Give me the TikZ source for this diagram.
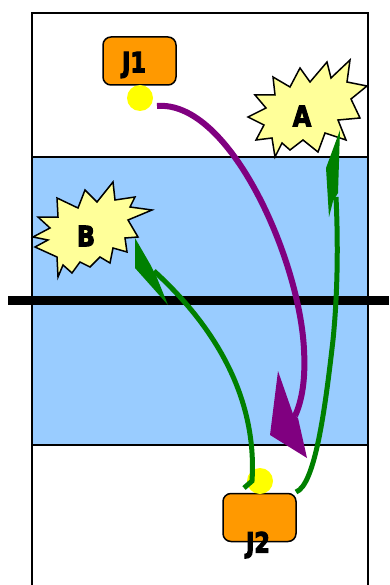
\documentclass[tikz,border=0pt]{standalone}
\usepackage{fontspec}
\newfontfamily\heavy{DejaVu Sans}[BoldFeatures={FakeBold=4}]
\definecolor{courtblue}{HTML}{99CCFF}
\definecolor{boxorange}{HTML}{FF9900}
\definecolor{starfill}{HTML}{FFFF99}
\definecolor{ballyellow}{HTML}{FFFF00}
\definecolor{purp}{HTML}{800080}
\definecolor{grn}{HTML}{008000}
\tikzset{
  courtline/.style={draw=black, line width=2pt},
  jbox/.style={draw=black, line width=1.5pt, fill=boxorange, rounded corners=8pt, minimum width=73pt, minimum height=48pt, inner sep=0pt},
  ball/.style={circle, fill=ballyellow, minimum size=26pt, inner sep=0pt},
  starshape/.style={draw=black, line width=1.5pt, fill=starfill, line join=miter},
  lbl/.style={inner sep=0pt, font=\heavy\bfseries\fontsize{28}{28}\selectfont},
  purpline/.style={draw=purp, line width=6pt},
  grnline/.style={draw=grn, line width=5pt},
  purphead/.style={fill=purp},
  grnhead/.style={fill=grn},
}
\begin{document}
\begin{tikzpicture}[x=1pt, y=-1pt]
\useasboundingbox (0,0) rectangle (389,585);
% court
\fill[white] (32,13) rectangle (368,585);
\fill[courtblue] (32,157) rectangle (368,445);
\draw[black, line width=1.5pt] (32,157) -- (368,157);
\draw[black, line width=1.5pt] (32,445) -- (368,445);
\draw[courtline] (32,590) -- (32,13) -- (368,13) -- (368,590);
\draw[black, line width=9pt] (8,300) -- (389,300);
% star A
\draw[starshape] (350,60) -- (347,82) -- (367,86) -- (351,99) -- (360,118) -- (338,120) -- (346,140) -- (325,133) -- (318,152) -- (303,140) -- (290,150) -- (282,143) -- (275,157) -- (272,138) -- (256,140) -- (264,125) -- (248,117) -- (266,108) -- (255,95) -- (275,95) -- (273,77) -- (290,87) -- (300,68) -- (310,82) -- (327,62) -- (331,78) -- cycle;
\node[lbl] (la) at (302,116) {\scalebox{0.85}[1]{A}};
% star B
\draw[starshape] (113,182) -- (115,200) -- (135,197) -- (130,207) -- (152,210) -- (128,220) -- (138,237) -- (125,238) -- (127,252) -- (113,248) -- (110,263) -- (100,257) -- (90,267) -- (80,262) -- (72,273) -- (63,265) -- (58,277) -- (57,257) -- (35,247) -- (48,240) -- (33,237) -- (50,228) -- (38,217) -- (58,217) -- (57,198) -- (78,208) -- (85,190) -- (97,202) -- cycle;
\node[lbl] (lb) at (86,236) {\scalebox{0.85}[1]{B}};
% players
\node[jbox] (j1) at (139.5,61) {};
\node[lbl] (j1t) at (134,65) {\scalebox{0.8}[1]{J1}};
\node[ball] (b1) at (140,98) {};
\node[jbox] (j2) at (259.5,517.5) {};
\node[lbl] (j2t) at (258,545) {\scalebox{0.8}[1]{J2}};
\node[ball] (b2) at (260,481) {};
% arrow coordinates
\coordinate (ps) at (157,106);
\coordinate (pm) at (304,350);
\coordinate (pe) at (295,416);
\coordinate (as) at (296,492);
\coordinate (am) at (333,340);
\coordinate (ae) at (336,197);
\coordinate (bs) at (244,488);
\coordinate (bm) at (252,481);
\coordinate (be) at (154,271);
% purple arrow J1 -> court
\draw[purpline] (ps) .. controls (230,100) and (300,260) .. (pm) .. controls (306,385) and (300,405) .. (pe);
\fill[purphead] (278,371) -- (293,414) -- (298,418) -- (307,458) -- (270,435) -- cycle;
% green arrow J2 -> A
\draw[grnline] (as) .. controls (315,485) and (325,410) .. (am) .. controls (338,290) and (338,240) .. (ae);
\fill[grnhead] (340,130) -- (338,193) -- (333,201) -- (329,217) -- (326,168) -- cycle;
% green arrow J2 -> B
\draw[grnline] (bs) -- (bm) .. controls (256,420) and (235,345) .. (be);
\fill[grnhead] (135,238) -- (150,264) -- (157,278) -- (168,305) -- (135,268) -- cycle;
\end{tikzpicture}
\end{document}
